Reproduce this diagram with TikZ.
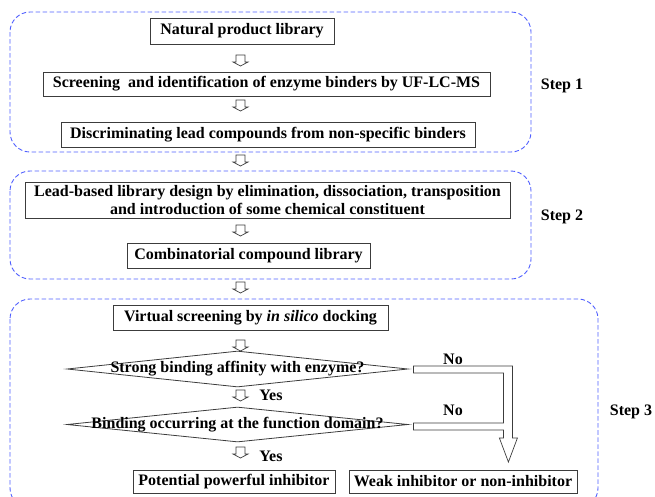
\documentclass[tikz,border=0pt]{standalone}
\usepackage{fontspec}
\setmainfont{Liberation Serif}
\usetikzlibrary{shapes.geometric,calc}
\definecolor{stepblue}{RGB}{80,95,255}
\definecolor{lineg}{RGB}{60,60,60}
\begin{document}
\begin{tikzpicture}[x=1pt,y=-1pt,
  txt/.style={font=\fontsize{16}{17.5}\selectfont\bfseries, inner sep=0pt},
  box/.style={txt, draw=lineg, line width=0.8pt, align=center},
  stepframe/.style={draw=stepblue, dash pattern=on 4.5pt off 2.5pt, line width=0.9pt, rounded corners=20pt},
  dia/.style={diamond, draw=lineg, line width=0.8pt, inner sep=0pt},
  bigarrow/.style={draw=lineg, line width=0.7pt, line join=miter},
  hollow/.pic={\draw[lineg, line width=0.7pt] (-4.5,0) -- (4.5,0) -- (4.5,7) -- (7.5,7) -- (0,11) -- (-7.5,7) -- (-4.5,7) -- cycle;}
]
\useasboundingbox (0,0) rectangle (655,496);

% step frames
\draw[stepframe] (10,12) rectangle (531,152);
\draw[stepframe] (10,171) rectangle (531,279);
\draw[stepframe] (10,299) rectangle (598,508);

% step 1
\node[box, minimum width=184pt, minimum height=26pt] (npl) at (242,31) {Natural product library};
\node[box, minimum width=447pt, minimum height=24pt] (scr) at (266.5,84) {Screening~ and identification of enzyme binders by UF-LC-MS};
\node[box, minimum width=414pt, minimum height=25pt] (dis) at (268,134.5) {Discriminating lead compounds from non-specific binders};
\node[txt] (s1) at (562,86) {Step 1};

% step 2
\node[box, minimum width=485pt, minimum height=36pt] (lead) at (267.5,200) {Lead-based library design by elimination, dissociation, transposition\\and introduction of some chemical constituent};
\node[box, minimum width=243pt, minimum height=25pt] (comb) at (248.5,255.5) {Combinatorial compound library};
\node[txt] (s2) at (562,217) {Step 2};

% step 3
\node[box, minimum width=275pt, minimum height=25pt] (virt) at (250.5,317.5) {Virtual screening by \textit{in silico} docking};
\node[dia, minimum width=341pt, minimum height=36pt] (d1) at (237.5,369) {};
\node[txt] (d1t) at (d1.center) {Strong binding affinity with enzyme?};
\node[dia, minimum width=341pt, minimum height=35pt] (d2) at (237.5,424.5) {};
\node[txt] (d2t) at (d2.center) {Binding occurring at the function domain?};
\node[box, minimum width=202pt, minimum height=23pt] (pot) at (234,481.5) {Potential powerful inhibitor};
\node[box, minimum width=228pt, minimum height=23pt] (weak) at (463,481.5) {Weak inhibitor or non-inhibitor};
\node[txt] (s3) at (631,412) {Step 3};

\node[txt] (yes1) at (271,395) {Yes};
\node[txt] (yes2) at (271,456) {Yes};
\node[txt] (no1) at (453,359) {No};
\node[txt] (no2) at (453,410) {No};

% small hollow arrows
\foreach \yy in {55,100,155,225,282,340,390,447}
  \pic at (240.5,\yy) {hollow};

% big "No" arrow
\draw[bigarrow] ($(d1.east)+(5,-3)$) -- ++(99,0) -- ++(0,72) -- ++(5,0) -- ++(-9,24) -- ++(-9,-24) -- ++(4,0) -- ++(0,-8) -- ++(-90,0) -- ++(0,-7) -- ++(90,0) -- ++(0,-50) -- ++(-90,0) -- cycle;
\end{tikzpicture}
\end{document}
